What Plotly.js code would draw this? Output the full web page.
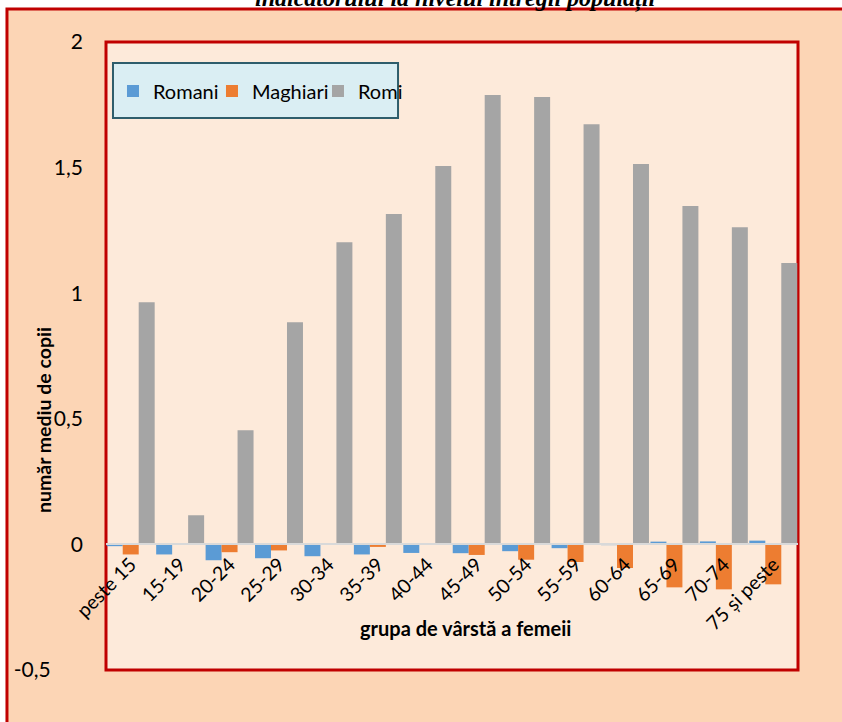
<!DOCTYPE html>
<html><head><meta charset="utf-8">
<script src="https://cdn.plot.ly/plotly-3.0.1.min.js"></script>
<style>html,body{margin:0;padding:0;background:#fff}#chart{width:842px;height:722px}</style>
</head><body><div id="chart"></div>
<script>
const categories = ['peste 15','15-19','20-24','25-29','30-34','35-39','40-44','45-49','50-54','55-59','60-64','65-69','70-74','75 și peste'];
const romani   = [-0.007,-0.040,-0.063,-0.055,-0.047,-0.040,-0.034,-0.035,-0.027,-0.015,-0.003,0.011,0.012,0.015];
const maghiari = [-0.040,0.003,-0.031,-0.024,0.003,-0.010,0.000,-0.042,-0.061,-0.070,-0.094,-0.171,-0.179,-0.159];
const romi     = [0.964,0.116,0.454,0.884,1.203,1.315,1.506,1.789,1.781,1.673,1.514,1.347,1.263,1.120];
const seriesNames = ['Romani','Maghiari','Romi'];
const seriesColors = ['#5B9BD5','#ED7D31','#A5A5A5'];
const yTickVals = [-0.5,0,0.5,1,1.5,2];
const yTickText = ['-0,5\u00a0\u00a0\u00a0\u00a0\u00a0\u00a0','0','0,5','1','1,5','2'];
const chartTitle = 'indicatorului la nivelul întregii populații';
const xTitle = 'grupa de vârstă a femeii';
const yTitle = 'număr mediu de copii';

const seriesValues = [romani, maghiari, romi];
const legendWidths = [54, 61, 70];
const traces = seriesValues.map((vals, i) => ({
  type: 'bar', x: categories, y: vals, name: seriesNames[i],
  marker: {color: seriesColors[i]}, legendwidth: legendWidths[i],
  hoverinfo: 'x+y+name'
}));

const layout = {
  width: 842, height: 722,
  margin: {l: 106, r: 44, t: 42, b: 52, pad: 0},
  paper_bgcolor: '#ffffff',
  plot_bgcolor: 'rgba(0,0,0,0)',
  separators: ', ',
  font: {family: 'Lato, "Open Sans", sans-serif', color: '#000', size: 19},
  barmode: 'group', bargap: 0.03, bargroupgap: 0,
  showlegend: true,
  legend: {orientation: 'h', x: 0.0101, xanchor: 'left', y: 0.922, yanchor: 'middle',
           bgcolor: 'rgba(0,0,0,0)', borderwidth: 0, font: {size: 20}, traceorder: 'normal'},
  xaxis: {type: 'category', anchor: 'free', position: 0.2, showline: true, linecolor: '#d9d9d9',
          linewidth: 2, ticks: '', tickangle: -45, tickfont: {size: 19.5, color: '#000'},
          showgrid: false, zeroline: false, layer: 'above traces', fixedrange: true},
  yaxis: {range: [-0.5, 2], tickmode: 'array', tickvals: yTickVals, ticktext: yTickText, ticks: '',
          showgrid: false, zeroline: false, showline: false, tickfont: {size: 21, color: '#000'},
          ticklabelstandoff: 22, fixedrange: true},
  shapes: [
    {type: 'rect', xref: 'paper', yref: 'paper', x0: -0.1431, x1: 1.10, y0: -0.12, y1: 1.0525,
     fillcolor: '#FCD5B5', line: {color: '#C00000', width: 3}, layer: 'below'},
    {type: 'rect', xref: 'paper', yref: 'paper', x0: 0, x1: 1, y0: 0, y1: 1,
     fillcolor: '#FDEADA', line: {color: '#C00000', width: 3}, layer: 'below'},
    {type: 'rect', xref: 'paper', yref: 'paper', x0: 0.0101, x1: 0.422, y0: 0.879, y1: 0.9666,
     fillcolor: '#DAEEF3', line: {color: '#2E5D6B', width: 2}, layer: 'below'}
  ],
  annotations: [
    {text: chartTitle, xref: 'paper', yref: 'paper', x: 0.504, y: 1.0446, xanchor: 'center', yanchor: 'bottom',
     showarrow: false, font: {family: '"Liberation Serif", serif', size: 24, weight: 'bold', style: 'italic', color: '#000'}},
    {text: xTitle, xref: 'paper', yref: 'paper', x: 0.520, y: 0.0669, xanchor: 'center', yanchor: 'middle',
     showarrow: false, font: {size: 20, weight: 'bold', color: '#000'}},
    {text: yTitle, xref: 'paper', yref: 'paper', x: -0.091, y: 0.398, xanchor: 'center', yanchor: 'middle',
     textangle: -90, showarrow: false, font: {size: 19.5, weight: 'bold', color: '#000'}}
  ]
};

Plotly.newPlot('chart', traces, layout, {displayModeBar: false, staticPlot: true});
</script>
</body></html>
